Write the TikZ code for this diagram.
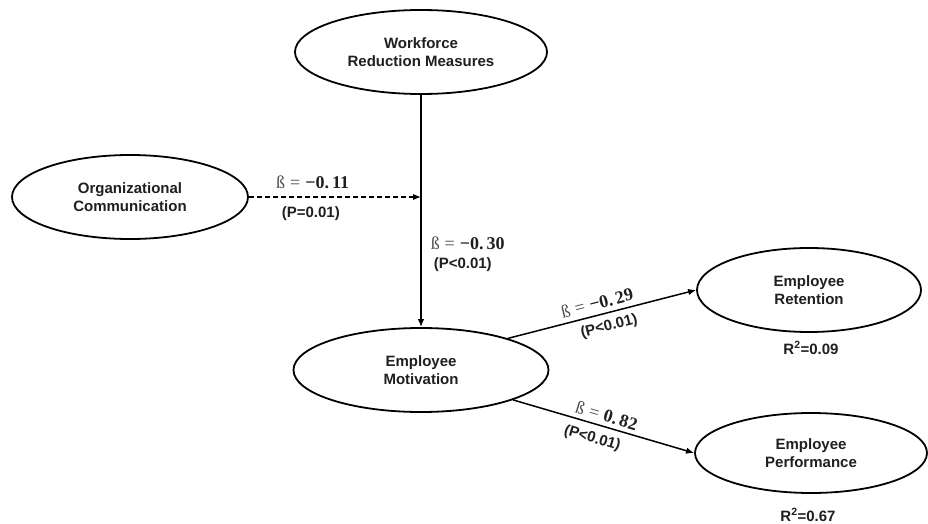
\documentclass[tikz,border=0pt]{standalone}
\usepackage{amsmath}
\usepackage{fontspec}
\newfontfamily\labsans{Liberation Sans}
\newfontfamily\labserif{Liberation Serif}
\usetikzlibrary{arrows.meta,positioning,calc,shapes.geometric}
\newcommand{\bcoef}[1]{{\color{black!70}ß\;=}\;\textbf{#1}}

\begin{document}
\begin{tikzpicture}[x=1pt,y=-1pt,>={Latex[length=8pt,width=6.5pt]},
  every node/.style={text=black!88},
  lat/.style={ellipse,draw=black,line width=1.8pt,inner sep=0pt,align=center,
              font=\labsans\bfseries\fontsize{15}{18}\selectfont},
  rel/.style={->,draw=black,line width=1.5pt},
  coef/.style={font=\labserif\fontsize{18}{20}\selectfont,inner sep=0pt},
  pval/.style={font=\labsans\bfseries\fontsize{15}{18}\selectfont,inner sep=0pt},
  rsq/.style={font=\labsans\bfseries\fontsize{15}{18}\selectfont}]
  \useasboundingbox (0,0) rectangle (928,524);

  % ---------- constructs ----------
  \node[lat,minimum width=252pt,minimum height=84pt] (wrm) at (421,52)
    {Workforce\\Reduction Measures};
  \node[lat,minimum width=236pt,minimum height=84pt] (orgc) at (130,197)
    {Organizational\\Communication};
  \node[lat,minimum width=255pt,minimum height=84pt] (mot) at (421,370)
    {Employee\\Motivation};
  \node[lat,minimum width=224pt,minimum height=84pt] (ret) at (809,290)
    {Employee\\Retention};
  \node[lat,minimum width=232pt,minimum height=80pt] (perf) at (811,453)
    {Employee\\Performance};

  % ---------- R squared ----------
  \node[rsq] (r2ret) at (811,348) {R\textsuperscript{2}=0.09};
  \node[rsq] (r2perf) at (808,515) {R\textsuperscript{2}=0.67};

  % ---------- paths ----------
  \coordinate (mod) at (wrm.south |- orgc.east);
  \draw[rel] (wrm.south) --
    node[coef,pos=0.637,anchor=west,xshift=9pt] (b30) {\bcoef{−0.\,30}}
    node[pval,pos=0.73,anchor=west,xshift=12pt] (p30) {(P<0.01)} (mot.north);
  \draw[rel,dashed,dash pattern=on 5pt off 3pt] (orgc.east) --
    node[coef,pos=0.37,above=7pt] (b11) {\bcoef{−0.\,11}}
    node[pval,pos=0.36,below=9pt] (p11) {(P=0.01)} (mod);
  \draw[rel] (mot.20) --
    node[coef,pos=0.49,above=5pt,sloped] (b29) {\bcoef{−0.\,29}}
    node[pval,pos=0.52,below=6pt,sloped] (p29) {(P<0.01)} (ret.west);
  \draw[rel] (mot.-18) --
    node[coef,pos=0.5,above=4pt,sloped] (b82) {\bcoef{0.\,82}}
    node[pval,pos=0.46,below=7pt,sloped] (p82) {(P<0.01)} (perf.west);
\end{tikzpicture}
\end{document}
